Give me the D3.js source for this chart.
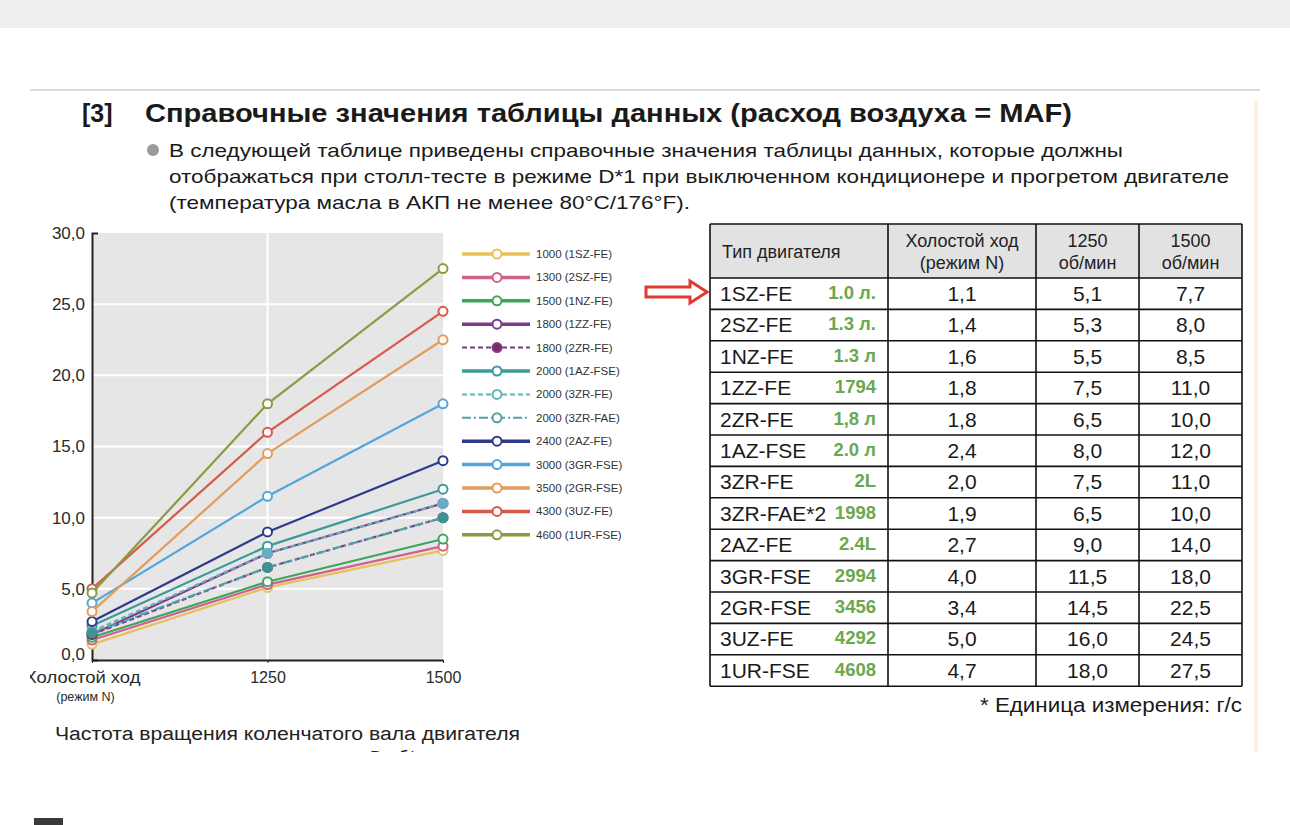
<!DOCTYPE html>
<html>
<head>
<meta charset="utf-8">
<script src="https://cdn.jsdelivr.net/npm/d3@7"></script>
<style>
  body { margin: 0; background: #fff; }
  svg { display: block; font-family: "Liberation Sans", Arial, sans-serif; }
</style>
</head>
<body>
<svg id="page" width="1290" height="825"></svg>
<script>
// data
const xCategories = ["Холостой ход", "1250", "1500"];
const yTicks = [0, 5, 10, 15, 20, 25, 30];

const engines = ["1SZ-FE", "2SZ-FE", "1NZ-FE", "1ZZ-FE", "2ZR-FE", "1AZ-FSE", "3ZR-FE",
  "3ZR-FAE*2", "2AZ-FE", "3GR-FSE", "2GR-FSE", "3UZ-FE", "1UR-FSE"];
const volumes = ["1.0 л.", "1.3 л.", "1.3 л", "1794", "1,8 л", "2.0 л", "2L",
  "1998", "2.4L", "2994", "3456", "4292", "4608"];
const legendLabels = ["1000 (1SZ-FE)", "1300 (2SZ-FE)", "1500 (1NZ-FE)", "1800 (1ZZ-FE)",
  "1800 (2ZR-FE)", "2000 (1AZ-FSE)", "2000 (3ZR-FE)", "2000 (3ZR-FAE)", "2400 (2AZ-FE)",
  "3000 (3GR-FSE)", "3500 (2GR-FSE)", "4300 (3UZ-FE)", "4600 (1UR-FSE)"];

const idle = [1.1, 1.4, 1.6, 1.8, 1.8, 2.4, 2.0, 1.9, 2.7, 4.0, 3.4, 5.0, 4.7];
const rpm1250 = [5.1, 5.3, 5.5, 7.5, 6.5, 8.0, 7.5, 6.5, 9.0, 11.5, 14.5, 16.0, 18.0];
const rpm1500 = [7.7, 8.0, 8.5, 11.0, 10.0, 12.0, 11.0, 10.0, 14.0, 18.0, 22.5, 24.5, 27.5];

const colors = ["#e8c05a", "#d2608c", "#3ea55e", "#7d3a8e", "#7d3a8e", "#3b9a9a", "#62b2b6",
  "#4fa3a3", "#2f3a8c", "#52a6dc", "#e29c5c", "#d65a48", "#8c9b42"];
const dashes = [null, null, null, null, "5,3", null, "5,3", "9,3,2,3", null, null, null, null, null];
const markerFill = ["#fff", "#fff", "#fff", "#fff", "#7a2c5c", "#fff", "#68adc4",
  "#3e9393", "#fff", "#fff", "#fff", "#fff", "#fff"];
const legendFill = ["#fff", "#fff", "#fff", "#fff", "#7a2c5c", "#fff", "#fff",
  "#fff", "#fff", "#fff", "#fff", "#fff", "#fff"];

const tableHead = [["Тип двигателя"], ["Холостой ход", "(режим N)"], ["1250", "об/мин"], ["1500", "об/мин"]];

const svg = d3.select("#page");
const fmt = v => d3.format(".1f")(v).replace(".", ",");

// grey band on top
svg.append("rect").attr("x", 0).attr("y", 0).attr("width", 1290).attr("height", 28).attr("fill", "#efefef");

svg.append("defs").append("clipPath").attr("id", "sheet")
  .append("rect").attr("x", 30).attr("y", 86).attr("width", 1240).attr("height", 666);

const g = svg.append("g").attr("clip-path", "url(#sheet)");

g.append("line").attr("x1", 30).attr("x2", 1260).attr("y1", 90).attr("y2", 90)
  .attr("stroke", "#cfcfcf").attr("stroke-width", 1.5);
g.append("line").attr("x1", 1256).attr("x2", 1256).attr("y1", 100).attr("y2", 752)
  .attr("stroke", "#fbf1d2").attr("stroke-width", 3);

// header texts
g.append("text").attr("x", 82).attr("y", 122).attr("font-size", 25).attr("font-weight", "bold")
  .attr("fill", "#1a1a1a").text("[3]");
g.append("text").attr("x", 145).attr("y", 122).attr("font-size", 25).attr("font-weight", "bold")
  .attr("fill", "#1a1a1a").attr("textLength", 927).attr("lengthAdjust", "spacingAndGlyphs")
  .text("Справочные значения таблицы данных (расход воздуха = MAF)");

g.append("circle").attr("cx", 153).attr("cy", 150).attr("r", 6).attr("fill", "#9a9a9a");
const intro = [
  ["В следующей таблице приведены справочные значения таблицы данных, которые должны", 954],
  ["отображаться при столл-тесте в режиме D*1 при выключенном кондиционере и прогретом двигателе", 1060],
  ["(температура масла в АКП не менее 80°C/176°F).", 521]
];
intro.forEach((d, i) => {
  g.append("text").attr("x", 169).attr("y", 157 + i * 26).attr("font-size", 19)
    .attr("fill", "#1a1a1a").attr("textLength", d[1]).attr("lengthAdjust", "spacingAndGlyphs").text(d[0]);
});

// ---- chart ----
const x = d3.scalePoint().domain(xCategories).range([92, 443]);
const y = d3.scaleLinear().domain([0, 30]).range([660, 233]);

g.append("rect").attr("x", 92).attr("y", y(30)).attr("width", 443 - 92).attr("height", y(0) - y(30))
  .attr("fill", "#e6e6e6");
g.selectAll(".hgrid").data(yTicks.filter(t => t > 0 && t < 30)).enter().append("line")
  .attr("x1", 92).attr("x2", 443).attr("y1", d => y(d)).attr("y2", d => y(d))
  .attr("stroke", "#fff").attr("stroke-width", 2);
g.append("line").attr("x1", x("1250")).attr("x2", x("1250")).attr("y1", y(30)).attr("y2", y(0))
  .attr("stroke", "#fff").attr("stroke-width", 2);

const yAxis = g.append("g").attr("transform", "translate(92,0)")
  .call(d3.axisLeft(y).tickValues(yTicks).tickSize(0).tickSizeOuter(-6).tickFormat(fmt).tickPadding(7));
yAxis.select(".domain").attr("stroke", "#222").attr("stroke-width", 2);
yAxis.selectAll("text").attr("font-size", 17).attr("fill", "#2a2a2a").attr("font-family", "Liberation Sans, Arial");
// the bottom label sits a little above the axis line in the reference
yAxis.selectAll(".tick").filter(d => d === 0).select("text").attr("dy", "-0.05em");

const xAxis = g.append("g").attr("transform", `translate(0,${y(0)})`)
  .call(d3.axisBottom(x).tickSize(3).tickSizeOuter(0).tickPadding(9));
xAxis.select(".domain").attr("stroke", "#222").attr("stroke-width", 2);
xAxis.selectAll("line").attr("stroke", "#222");
xAxis.selectAll("text").attr("font-size", 16).attr("fill", "#2a2a2a").attr("font-family", "Liberation Sans, Arial");
xAxis.selectAll(".tick").filter(d => d === xCategories[0]).select("text").each(function () {
  const t = d3.select(this).text("").attr("transform", "translate(-10,0)");
  t.append("tspan").attr("x", 0).attr("textLength", 116).attr("lengthAdjust", "spacingAndGlyphs").text("Холостой ход");
  t.append("tspan").attr("x", 3).attr("dy", 18).attr("font-size", 12.5).text("(режим N)");
});

g.append("text").attr("x", 55).attr("y", 740).attr("font-size", 18).attr("fill", "#222")
  .attr("textLength", 465).attr("lengthAdjust", "spacingAndGlyphs")
  .text("Частота вращения коленчатого вала двигателя");
g.append("text").attr("x", 370).attr("y", 764).attr("font-size", 18).attr("fill", "#222").text("D об/мин");

const series = engines.map((e, i) => ({
  i, values: [idle[i], rpm1250[i], rpm1500[i]].map((v, k) => ({ cat: xCategories[k], v }))
}));
const line = d3.line().x(d => x(d.cat)).y(d => y(d.v));

const sg = g.selectAll(".series").data(series).enter().append("g");
sg.append("path").attr("d", d => line(d.values)).attr("fill", "none")
  .attr("stroke", d => colors[d.i]).attr("stroke-width", 2.2)
  .attr("stroke-dasharray", d => dashes[d.i]);
sg.selectAll("circle").data(d => d.values.map(p => ({ ...p, i: d.i }))).enter().append("circle")
  .attr("cx", d => x(d.cat)).attr("cy", d => y(d.v)).attr("r", 4.5)
  .attr("fill", d => markerFill[d.i]).attr("stroke", d => markerFill[d.i] === "#fff" ? colors[d.i] : markerFill[d.i])
  .attr("stroke-width", 2);

// legend
const lg = g.selectAll(".leg").data(legendLabels).enter().append("g")
  .attr("transform", (d, i) => `translate(462,${254 + i * 23.4})`);
lg.append("line").attr("x1", 0).attr("x2", 68).attr("y1", 0).attr("y2", 0)
  .attr("stroke", (d, i) => colors[i]).attr("stroke-width", (d, i) => dashes[i] ? 2 : 3.5)
  .attr("stroke-dasharray", (d, i) => dashes[i]);
lg.append("circle").attr("cx", 35).attr("cy", 0).attr("r", 4.5)
  .attr("fill", (d, i) => legendFill[i]).attr("stroke", (d, i) => colors[i]).attr("stroke-width", 2);
lg.append("text").attr("x", 74).attr("y", 4).attr("font-size", 11.5).attr("fill", "#333").text(d => d);

// red arrow
g.append("path")
  .attr("d", "M646,287 H690 V281 L707,292 L690,303 V297 H646 Z")
  .attr("fill", "#fff").attr("stroke", "#e03a32").attr("stroke-width", 3);

// ---- table ----
const colX = [710, 888, 1036, 1139, 1242];
const headTop = 224, headBottom = 278, rowH = 31.4;
const rowY = d3.scaleLinear().domain([0, engines.length]).range([headBottom, headBottom + rowH * engines.length]);

g.append("rect").attr("x", colX[0]).attr("y", headTop).attr("width", colX[4] - colX[0])
  .attr("height", headBottom - headTop).attr("fill", "#e2e2e2");

tableHead.forEach((lines, c) => {
  const cx = c === 0 ? colX[0] + 12 : (colX[c] + colX[c + 1]) / 2;
  const t = g.append("text").attr("font-size", 18).attr("fill", "#222")
    .attr("text-anchor", c === 0 ? "start" : "middle");
  lines.forEach((s, k) => {
    t.append("tspan").attr("x", cx)
      .attr("y", lines.length === 1 ? 258 : 247 + k * 22).text(s);
  });
});

const rows = g.selectAll(".row").data(engines).enter().append("g")
  .attr("transform", (d, i) => `translate(0,${rowY(i)})`);
rows.append("text").attr("x", colX[0] + 10).attr("y", 23).attr("font-size", 21).attr("fill", "#1a1a1a").text(d => d);
rows.append("text").attr("x", 876).attr("y", 21).attr("text-anchor", "end").attr("font-size", 18.5)
  .attr("font-weight", "bold").attr("fill", "#6aa84f").text((d, i) => volumes[i]);
[idle, rpm1250, rpm1500].forEach((arr, c) => {
  rows.append("text").attr("x", (colX[c + 1] + colX[c + 2]) / 2).attr("y", 23)
    .attr("text-anchor", "middle").attr("font-size", 21).attr("fill", "#1a1a1a")
    .text((d, i) => fmt(arr[i]));
});

// grid lines
const hLines = [headTop, headBottom].concat(engines.map((d, i) => rowY(i + 1)));
g.selectAll(".hl").data(hLines).enter().append("line")
  .attr("x1", colX[0]).attr("x2", colX[4]).attr("y1", d => d).attr("y2", d => d)
  .attr("stroke", "#111").attr("stroke-width", 1.6);
g.selectAll(".vl").data(colX).enter().append("line")
  .attr("x1", d => d).attr("x2", d => d).attr("y1", headTop).attr("y2", rowY(engines.length))
  .attr("stroke", "#111").attr("stroke-width", 1.6);

g.append("text").attr("x", 1242).attr("y", 712).attr("text-anchor", "end").attr("font-size", 20)
  .attr("fill", "#1a1a1a").attr("textLength", 262).attr("lengthAdjust", "spacingAndGlyphs")
  .text("* Единица измерения: г/с");

// next block peeking at the bottom
svg.append("rect").attr("x", 34).attr("y", 818).attr("width", 29).attr("height", 7).attr("fill", "#3a3a3a");
</script>
</body>
</html>
